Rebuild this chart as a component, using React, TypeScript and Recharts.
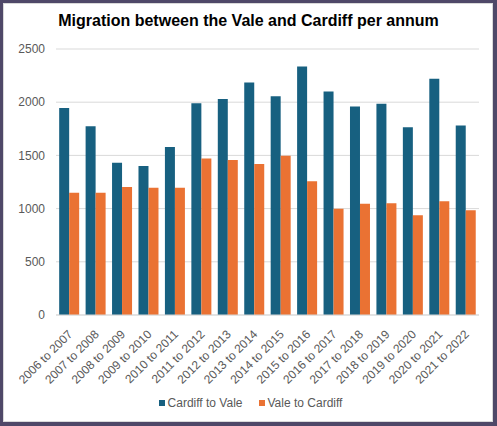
import React from 'react';
import { BarChart, Bar, XAxis, YAxis, CartesianGrid, Legend } from 'recharts';

const YEARS = [
  '2006 to 2007', '2007 to 2008', '2008 to 2009', '2009 to 2010',
  '2010 to 2011', '2011 to 2012', '2012 to 2013', '2013 to 2014',
  '2014 to 2015', '2015 to 2016', '2016 to 2017', '2017 to 2018',
  '2018 to 2019', '2019 to 2020', '2020 to 2021', '2021 to 2022',
];
const CARDIFF_TO_VALE = [1945, 1775, 1430, 1400, 1580, 1990, 2030, 2185, 2055, 2335, 2100, 1960, 1985, 1765, 2220, 1780];
const VALE_TO_CARDIFF = [1148, 1148, 1203, 1195, 1195, 1470, 1457, 1418, 1496, 1256, 998, 1045, 1050, 938, 1068, 985];
const Y_TICKS = [0, 500, 1000, 1500, 2000, 2500];

const BLUE = '#176080';
const ORANGE = '#ea7233';
const TEXT = '#595959';
const FONT = '"Liberation Sans", Arial, sans-serif';

const data = YEARS.map((year, i) => ({
  year,
  cardiff: CARDIFF_TO_VALE[i],
  vale: VALE_TO_CARDIFF[i],
}));

const XTick = ({ x, y, payload }: any) => (
  <text
    transform={`translate(${x + 1},${y + 17}) rotate(-45)`}
    textAnchor="end"
    dy="0.35em"
    fontSize={12}
    fill={TEXT}
    fontFamily={FONT}
  >
    {payload.value}
  </text>
);

const LegendContent = ({ payload }: any) => (
  <div style={{ display: 'flex', justifyContent: 'center', gap: 16, fontSize: 12, color: TEXT, fontFamily: FONT, paddingLeft: 4 }}>
    {(payload || []).map((p: any) => (
      <span key={p.value} style={{ display: 'flex', alignItems: 'center' }}>
        <span style={{ width: 6, height: 6, background: p.color, marginRight: 3, display: 'inline-block' }} />
        {p.value}
      </span>
    ))}
  </div>
);

export default function App() {
  return (
    <div style={{ position: 'relative', width: 497, height: 426, background: '#4f4868', fontFamily: FONT }}>
      <style>{'body{margin:0}'}</style>
      <div
        style={{
          position: 'absolute', left: 3, top: 3, width: 488, height: 417,
          background: '#fff', border: '1px solid #d9d9d9',
        }}
      />
      <div
        style={{
          position: 'absolute', left: 0, top: 12, width: 497, textAlign: 'center',
          fontSize: 16, fontWeight: 'bold', color: '#000',
        }}
      >
        Migration between the Vale and Cardiff per annum
      </div>
      <div style={{ position: 'absolute', left: 0, top: 0 }}>
        <BarChart
          width={497}
          height={426}
          data={data}
          margin={{ top: 49, right: 18, left: 6, bottom: 41 }}
          barCategoryGap="12%"
          barGap={0}
        >
          <CartesianGrid vertical={false} stroke="#d9d9d9" />
          <XAxis
            dataKey="year"
            interval={0}
            height={70}
            tickLine={false}
            tickSize={0}
            tickMargin={0}
            axisLine={{ stroke: '#d9d9d9' }}
            tick={<XTick />}
          />
          <YAxis
            width={50}
            domain={[0, 2500]}
            ticks={Y_TICKS}
            axisLine={false}
            tickLine={false}
            tickSize={0}
            tickMargin={11}
            tick={{ fontSize: 12, fill: TEXT, fontFamily: FONT }}
          />
          <Legend
            verticalAlign="middle"
            align="center"
            wrapperStyle={{ top: 396, left: 0, width: 497 }}
            content={<LegendContent />}
          />
          <Bar dataKey="cardiff" name="Cardiff to Vale" fill={BLUE} isAnimationActive={false} />
          <Bar dataKey="vale" name="Vale to Cardiff" fill={ORANGE} isAnimationActive={false} />
        </BarChart>
      </div>
    </div>
  );
}
